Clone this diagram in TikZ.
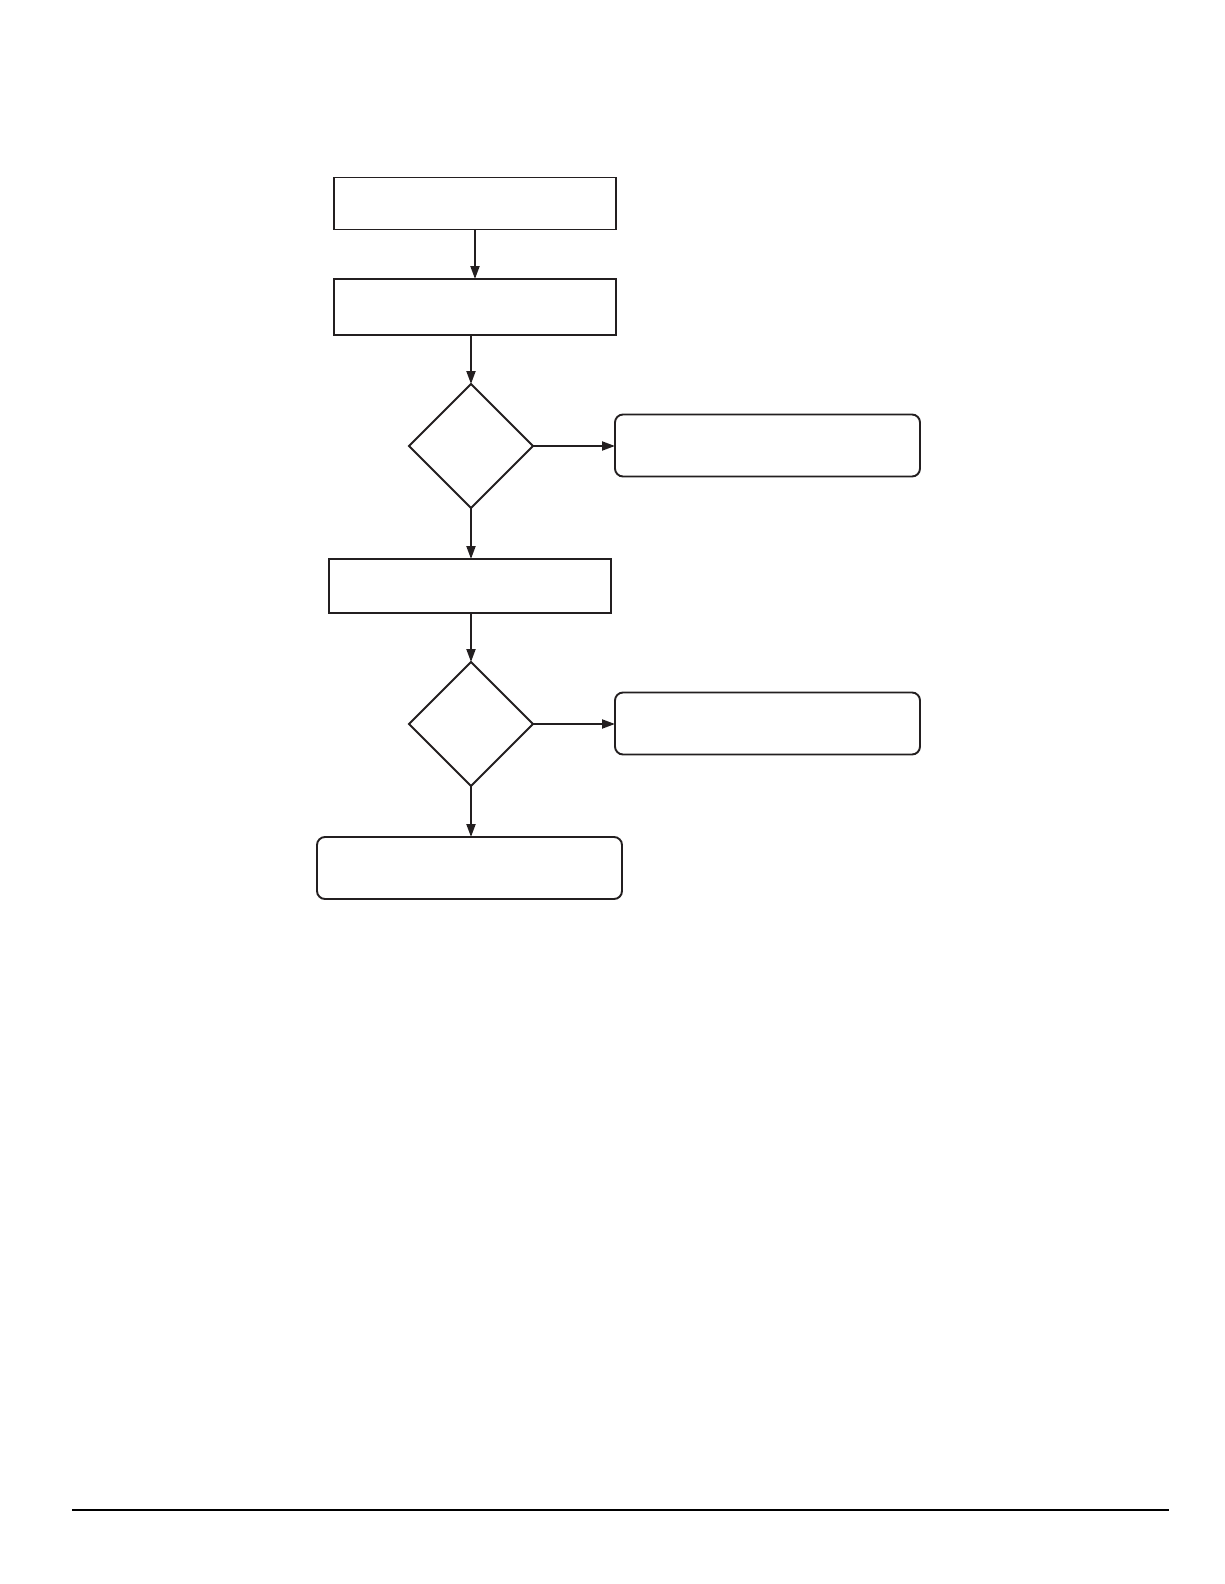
\documentclass[tikz,border=0pt]{standalone}
\usetikzlibrary{arrows.meta,shapes.geometric}
\definecolor{ink}{HTML}{231F20}
\begin{document}
\begin{tikzpicture}[x=1pt,y=-1pt,
  every node/.style={draw=ink, line width=1.9pt, inner sep=0pt, outer sep=0pt},
  sqbox/.style={rectangle, minimum width=282pt},
  rbox/.style={rectangle, rounded corners=8pt, minimum width=305pt, minimum height=62pt},
  dec/.style={diamond, minimum width=124pt, minimum height=124pt, aspect=1},
  conn/.style={draw=ink, line width=2pt, -{Triangle[length=13pt,width=9pt]}}]
\useasboundingbox (0,0) rectangle (1224,1584);
\node[sqbox, minimum height=52pt] (b1) at (475,203.5) {};
\node[sqbox, minimum height=56pt] (b2) at (475,307) {};
\node[dec] (d1) at (471,446) {};
\node[rbox] (r1) at (767.5,445.5) {};
\node[sqbox, minimum height=54pt] (b3) at (470,586) {};
\node[dec] (d2) at (471,724) {};
\node[rbox] (r2) at (767.5,723.5) {};
\node[rbox] (b4) at (469.5,868) {};
\coordinate (l1) at (72,1510);
\coordinate (l2) at (1169,1510);
\draw[conn] (b1.south) -- (b2.north);
\draw[conn] (b2.south -| d1.north) -- (d1.north);
\draw[conn] (d1.east) -- (d1.east -| r1.west);
\draw[conn] (d1.south) -- (d1.south |- b3.north);
\draw[conn] (b3.south -| d2.north) -- (d2.north);
\draw[conn] (d2.east) -- (d2.east -| r2.west);
\draw[conn] (d2.south) -- (d2.south |- b4.north);
\draw[draw=black, line width=2pt] (l1) -- (l2);
\end{tikzpicture}
\end{document}
